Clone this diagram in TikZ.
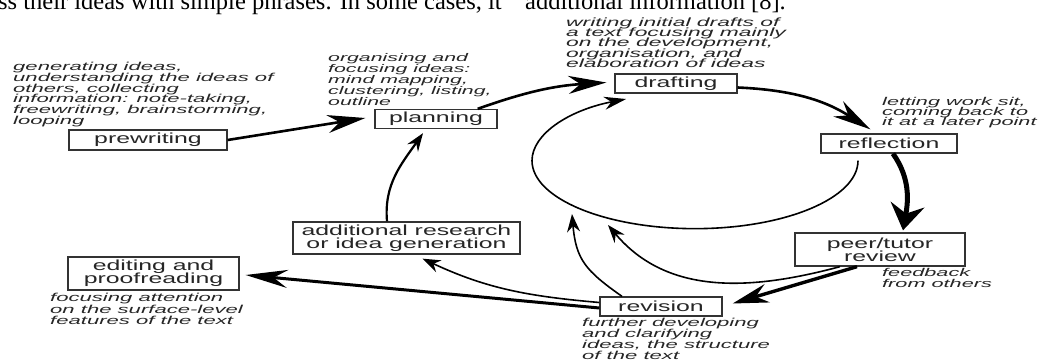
\documentclass[tikz,border=0pt]{standalone}
\usepackage{fontspec}
\setmainfont{Liberation Sans}
\newfontfamily\diagfont[FakeStretch=1.7]{Liberation Sans}
\newfontfamily\notefam[FakeStretch=1.92]{Liberation Sans}
\newfontfamily\papfont{Liberation Serif}
\usetikzlibrary{arrows.meta}
\newcommand\tightlines{\lineskiplimit=-30pt\relax}
\newcommand\notefont[2]{\notefam\itshape\fontsize{#1}{#2}\selectfont\tightlines}
\newcommand\labelfont{\diagfont\fontsize{14.6pt}{13.3pt}\selectfont\tightlines}
\begin{document}
\begin{tikzpicture}[x=1pt,y=-1pt,
  box/.style={draw=black!80, line width=1.3pt, inner sep=0pt, align=center, text=black!85,
    font=\labelfont},
  note/.style={inner sep=0pt, anchor=base west, align=left, text=black!85,
    font={\notefont{11.5pt}{10.8pt}}},
  paper/.style={inner sep=0pt, anchor=base west, text=black, font=\papfont\fontsize{24.5pt}{25pt}\selectfont},
  bigarr/.style={draw=black, line width=2.6pt, -{Stealth[length=38pt,width=18pt,inset=12pt]}},
  thinarr/.style={draw=black, line width=1.6pt, -{Stealth[length=18pt,width=13pt,inset=6pt]}}
]
\path[use as bounding box] (0,0) rectangle (1042,361);
\clip (0,0) rectangle (1042,361);
\fill[white] (0,0) rectangle (1042,361);

% fragments of the surrounding page text
\node[paper] (t1) at (-2,10) {ss their ideas with simple phrases. In some cases, it};
\node[paper] (t2) at (525,10) {additional information [8].};

% boxes
\node[box, minimum width=158pt, minimum height=20pt] (pre) at (148,140) {prewriting};
\node[box, minimum width=122pt, minimum height=19pt] (plan) at (436,119) {planning};
\node[box, minimum width=122pt, minimum height=19pt] (draft) at (676,83.5) {drafting};
\node[box, minimum width=136pt, minimum height=19pt] (refl) at (889,143.5) {reflection};
\node[box, minimum width=170pt, minimum height=33pt] (peer) at (880,249.5) {peer/tutor\\review};
\node[box, minimum width=122pt, minimum height=19pt] (rev) at (661,306.5) {revision};
\node[box, minimum width=227pt, minimum height=32pt] (add) at (406.5,238) {additional research\\or idea generation};
\node[box, minimum width=171pt, minimum height=33pt] (edit) at (153.5,273.5) {editing and\\proofreading};

% notes (anchored at the baseline of their last line)
\node[note] (npre) at (13,124.5) {generating ideas,\\understanding the ideas of\\others, collecting\\information: note-taking,\\freewriting, brainstorming,\\looping};
\node[note, font={\notefont{11.1pt}{11pt}}] (nplan) at (328,105.5) {organising and\\focusing ideas:\\mind mapping,\\clustering, listing,\\outline};
\node[note, font={\notefont{11.9pt}{10.3pt}}] (ndraft) at (566,67.5) {writing initial drafts of\\a text focusing mainly\\on the development,\\organisation, and\\elaboration of ideas};
\node[note, font={\notefont{11.3pt}{10.2pt}}] (nrefl) at (882,125.5) {letting work sit,\\coming back to\\it at a later point};
\node[note, font={\notefont{11.3pt}{10.8pt}}] (npeer) at (882,287.5) {feedback\\from others};
\node[note, font={\notefont{11.5pt}{11pt}}] (nrev) at (582,359.5) {further developing\\and clarifying\\ideas, the structure\\of the text};
\node[note, font={\notefont{11.5pt}{11.4pt}}] (nedit) at (50,324.5) {focusing attention\\on the surface-level\\features of the text};

% helper coordinates
\coordinate (estart) at ([xshift=-31pt,yshift=-7pt]refl.south);
\coordinate (fbtip) at (608,225);
\coordinate (rvtip) at (572,214);

% main cycle
\draw[bigarr] (pre.east) -- ([xshift=-9pt,yshift=1pt]plan.west);
\draw[bigarr] ([xshift=-20pt]plan.north east) to[bend left=8] ([xshift=-8pt,yshift=1pt]draft.west);
\draw[bigarr] ([yshift=-4pt]draft.east) to[bend left=15] ([xshift=50pt,yshift=4pt]refl.north west);
\draw[draw=black, line width=5pt, -{Stealth[length=26pt,width=34pt,inset=9pt]}]
  ([xshift=4pt]refl.south) to[out=-55,in=80] ([xshift=23pt,yshift=2pt]peer.north);
\draw[draw=black, line width=3.4pt, -{Stealth[length=36pt,width=19pt,inset=12pt]}]
  ([xshift=-23pt]peer.south) -- ([xshift=10pt,yshift=3pt]rev.east);
\draw[draw=black, line width=3pt, -{Stealth[length=42pt,width=18pt,inset=14pt]}]
  ([yshift=-1.5pt]rev.west) -- ([xshift=6pt,yshift=-1.5pt]edit.east);

% loop-backs
\draw[thinarr] ([xshift=-40pt]peer.south) to[out=195,in=-50] (fbtip);
\draw[thinarr] ([xshift=-39pt]rev.north) to[out=145,in=-85,looseness=1.2] (rvtip);
\draw[thinarr] ([yshift=4pt]rev.west) to[out=175,in=-25] ([xshift=16pt,yshift=-4pt]add.south);
\draw[thinarr, line width=2.2pt] ([xshift=-19.5pt]add.north) to[out=95,in=-125] ([xshift=-13pt,yshift=-4pt]plan.south);

% big open ellipse back to drafting
\draw[draw=black, line width=1.6pt, -{Stealth[length=22pt,width=13pt,inset=7pt]}]
  (estart) arc[start angle=0, end angle=245, x radius=163, y radius=68];
\end{tikzpicture}
\end{document}
